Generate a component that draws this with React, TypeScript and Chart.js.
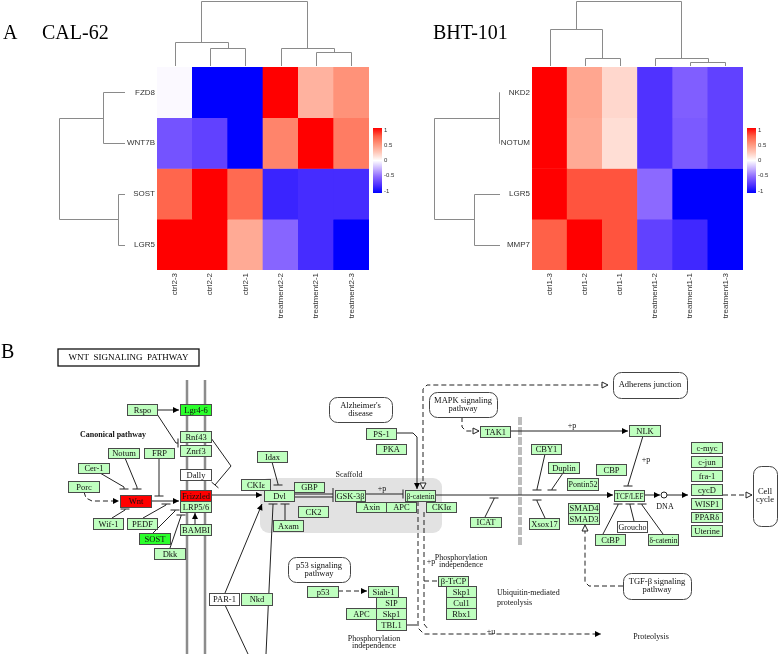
import React, { useEffect, useRef } from "react";
import { Chart, registerables } from "chart.js";
Chart.register(...registerables);

const SERIF = '"Liberation Serif", "Times New Roman", serif';
const SANS = '"Liberation Sans", Arial, sans-serif';

// ---------------- Panel A data ----------------
const CAL_SAMPLES = ["ctrl2-3", "ctrl2-2", "ctrl2-1", "treatment2-2", "treatment2-1", "treatment2-3"];
const CAL_GENES = ["FZD8", "WNT7B", "SOST", "LGR5"];
const CAL_FZD8 = [-0.02, -1, -1, 1, 0.36, 0.52];
const CAL_WNT7B = [-0.6, -0.68, -1, 0.58, 1, 0.62];
const CAL_SOST = [0.72, 1, 0.7, -0.82, -0.78, -0.78];
const CAL_LGR5 = [1, 1, 0.4, -0.52, -0.78, -1];
const CAL_COL_TREE = [[1, 2, 0.277], [0, 6, 0.369], [4, 5, 0.215], [3, 8, 0.277], [7, 9, 1]];
const CAL_ROW_TREE = [[0, 1, 0.333], [2, 3, 0.106], [4, 5, 1]];

const BHT_SAMPLES = ["ctrl1-3", "ctrl1-2", "ctrl1-1", "treatment1-2", "treatment1-1", "treatment1-3"];
const BHT_GENES = ["NKD2", "NOTUM", "LGR5", "MMP7"];
const BHT_NKD2 = [1, 0.42, 0.18, -0.75, -0.55, -0.68];
const BHT_NOTUM = [1, 0.4, 0.15, -0.75, -0.57, -0.68];
const BHT_LGR5 = [1, 0.78, 0.78, -0.5, -1, -1];
const BHT_MMP7 = [0.74, 1, 0.78, -0.68, -0.8, -1];
const BHT_COL_TREE = [[1, 2, 0.123], [0, 6, 0.569], [4, 5, 0.062], [3, 8, 0.123], [7, 9, 1]];
const BHT_ROW_TREE = [[0, 1, 0.01], [2, 3, 0.39], [4, 5, 1]];

const LEGEND_TICKS = [1, 0.5, 0, -0.5, -1];

// colour ramp (style)
const STOPS: [number, number[]][] = [
  [-1, [0, 0, 255]], [-0.75, [80, 50, 255]], [-0.5, [140, 105, 255]], [-0.25, [200, 180, 255]],
  [0, [255, 255, 255]], [0.25, [255, 200, 185]], [0.5, [255, 150, 125]], [0.75, [255, 95, 70]], [1, [255, 0, 0]],
];
function heatColor(v: number) {
  const x = Math.max(-1, Math.min(1, v));
  for (let i = 0; i < STOPS.length - 1; i++) {
    const [a, ca] = STOPS[i];
    const [b, cb] = STOPS[i + 1];
    if (x >= a && x <= b) {
      const t = (x - a) / (b - a);
      const c = ca.map((q, k) => Math.round(q + (cb[k] - q) * t));
      return `rgb(${c[0]},${c[1]},${c[2]})`;
    }
  }
  return "rgb(255,255,255)";
}

// ---------------- Panel B layout ----------------
const PATHWAY_NODES: [string, number, number, number, number, string][] = [
  ["Rspo", 127, 404, 30, 11, "g"], ["Lgr4-6", 180, 404, 31, 11, "G"], ["Rnf43", 180, 431, 31, 11, "g"],
  ["Znrf3", 180, 445, 31, 11, "g"], ["Dally", 180, 469, 31, 11, "w"], ["Frizzled", 180, 490, 31, 11, "r"],
  ["LRP5/6", 180, 501, 31, 11, "g"], ["BAMBI", 180, 524, 31, 11, "g"], ["Notum", 108, 448, 31, 10, "g"],
  ["FRP", 144, 448, 30, 10, "g"], ["Cer-1", 78, 463, 31, 10, "g"], ["Porc", 68, 481, 31, 11, "g"],
  ["Wnt", 120, 495, 31, 12, "r"], ["Wif-1", 93, 518, 30, 11, "g"], ["PEDF", 127, 518, 30, 11, "g"],
  ["SOST", 139, 533, 31, 11, "G"], ["Dkk", 154, 548, 31, 11, "g"], ["PAR-1", 209, 593, 30, 12, "w"],
  ["Nkd", 241, 593, 31, 12, "g"], ["CKIε", 241, 479, 29, 11, "g"], ["Idax", 257, 451, 30, 11, "g"],
  ["GBP", 294, 482, 30, 10, "g"], ["Dvl", 264, 490, 30, 11, "g"], ["GSK-3β", 335, 490, 30, 11, "g"],
  ["β-catenin", 405, 490, 30, 11, "g"], ["Axin", 356, 502, 30, 10, "g"], ["APC", 386, 502, 30, 10, "g"],
  ["CKIα", 426, 502, 30, 10, "g"], ["CK2", 298, 506, 30, 11, "g"], ["Axam", 273, 520, 30, 11, "g"],
  ["ICAT", 470, 517, 31, 10, "g"], ["PS-1", 366, 428, 30, 11, "g"], ["PKA", 376, 444, 30, 10, "g"],
  ["TAK1", 480, 426, 30, 11, "g"], ["NLK", 629, 425, 31, 11, "g"], ["CBY1", 531, 444, 30, 10, "g"],
  ["Duplin", 548, 462, 31, 11, "g"], ["CBP", 596, 464, 30, 11, "g"], ["Pontin52", 567, 478, 31, 12, "g"],
  ["TCF/LEF", 614, 490, 30, 11, "g"], ["SMAD4", 568, 503, 31, 10, "g"], ["SMAD3", 568, 513, 31, 11, "g"],
  ["Xsox17", 529, 518, 30, 11, "g"], ["Groucho", 617, 521, 30, 11, "w"], ["CtBP", 595, 534, 30, 11, "g"],
  ["δ-catenin", 648, 534, 30, 11, "g"], ["c-myc", 691, 442, 31, 11, "g"], ["c-jun", 691, 456, 31, 11, "g"],
  ["fra-1", 691, 470, 31, 11, "g"], ["cycD", 691, 484, 31, 11, "g"], ["WISP1", 691, 498, 31, 11, "g"],
  ["PPARδ", 691, 512, 31, 10, "g"], ["Uterine", 691, 525, 31, 11, "g"], ["p53", 307, 586, 31, 11, "g"],
  ["Siah-1", 368, 586, 30, 11, "g"], ["SIP", 376, 597, 30, 11, "g"], ["Skp1", 376, 608, 30, 11, "g"],
  ["APC", 346, 608, 30, 11, "g"], ["TBL1", 376, 619, 30, 11, "g"], ["β-TrCP", 438, 576, 30, 10, "g"],
  ["Skp1", 446, 586, 30, 11, "g"], ["Cul1", 446, 597, 30, 11, "g"], ["Rbx1", 446, 608, 30, 11, "g"],
];

const PATHWAY_LINKS: [string[], number, number, number, number][] = [
  [["Alzheimer's", "disease"], 329, 397, 63, 25],
  [["MAPK signaling", "pathway"], 429, 392, 68, 25],
  [["Adherens junction"], 613, 372, 74, 26],
  [["p53 signaling", "pathway"], 288, 557, 62, 25],
  [["TGF-β signaling", "pathway"], 623, 573, 68, 26],
  [["Cell", "cycle"], 753, 466, 24, 60],
];

const PATHWAY_TEXTS: [string, number, number, string, boolean][] = [
  ["Canonical pathway", 113, 435, "center", true], ["Scaffold", 349, 475, "center", false],
  ["+p", 382, 489, "center", false], ["+p", 572, 426, "center", false], ["+p", 646, 460, "center", false],
  ["+p", 431, 562, "center", false],
  ["Phosphorylation", 461, 558, "center", false], ["independence", 461, 565, "center", false],
  ["Phosphorylation", 374, 639, "center", false], ["independence", 374, 646, "center", false],
  ["Ubiquitin-mediated", 497, 593, "left", false], ["proteolysis", 497, 603, "left", false],
  ["+u", 491, 632, "center", false], ["Proteolysis", 651, 637, "center", false], ["DNA", 665, 507, "center", false],
];

type Edge = { p: number[][]; e: string; d?: boolean; s?: string };
const PATHWAY_EDGES: Edge[] = [
  { p: [[157, 410], [179, 410]], e: "arrow" },
  { p: [[157, 414], [176, 443], [178, 443]], e: "bar" },
  { p: [[211, 438], [231, 466], [215, 485]], e: "bar" },
  { p: [[211, 495], [262, 495]], e: "arrow" },
  { p: [[84, 492], [86, 498], [92, 501], [119, 501]], e: "arrow", d: true },
  { p: [[151, 501], [179, 501]], e: "arrow" },
  { p: [[100, 473], [124, 487], [124, 489]], e: "bar" },
  { p: [[125, 458], [137, 487], [137, 489]], e: "bar" },
  { p: [[159, 458], [159, 496]], e: "bar" },
  { p: [[112, 518], [125, 510], [125, 509]], e: "bar" },
  { p: [[143, 518], [166, 505], [166, 504]], e: "bar" },
  { p: [[153, 533], [175, 511], [175, 510]], e: "bar" },
  { p: [[170, 548], [181, 516], [181, 515]], e: "bar" },
  { p: [[195, 524], [195, 513]], e: "arrow" },
  { p: [[225, 593], [262, 504]], e: "arrow" },
  { p: [[225, 605], [248, 654]], e: "none" },
  { p: [[266, 654], [273, 505], [273, 504]], e: "bar" },
  { p: [[272, 462], [278, 484], [278, 485]], e: "bar" },
  { p: [[285, 520], [285, 504]], e: "bar" },
  { p: [[294, 494], [333, 494]], e: "none" },
  { p: [[294, 497], [333, 497]], e: "none" },
  { p: [[333, 488], [333, 502]], e: "none" },
  { p: [[365, 494], [403, 494]], e: "bar" },
  { p: [[396, 433], [413, 433], [417, 437], [417, 489]], e: "arrow" },
  { p: [[423, 489], [423, 389], [427, 385], [608, 385]], e: "open", s: "open", d: true },
  { p: [[462, 417], [462, 427], [466, 431], [479, 431]], e: "open", d: true },
  { p: [[510, 431], [628, 431]], e: "arrow" },
  { p: [[435, 495], [613, 495]], e: "arrow" },
  { p: [[643, 436], [628, 485], [628, 486]], e: "bar" },
  { p: [[545, 454], [537, 489], [537, 490]], e: "bar" },
  { p: [[563, 473], [552, 489], [552, 490]], e: "bar" },
  { p: [[545, 518], [537, 501], [537, 500]], e: "bar" },
  { p: [[644, 495], [660, 495]], e: "arrow" },
  { p: [[667, 495], [688, 495]], e: "arrow" },
  { p: [[723, 495], [752, 495]], e: "open", d: true },
  { p: [[603, 534], [618, 505], [618, 504]], e: "bar" },
  { p: [[634, 521], [630, 505], [630, 504]], e: "bar" },
  { p: [[663, 534], [642, 505], [642, 504]], e: "bar" },
  { p: [[623, 586], [589, 586], [585, 582], [585, 525]], e: "open", d: true },
  { p: [[485, 517], [494, 499], [494, 498]], e: "bar" },
  { p: [[338, 591], [367, 591]], e: "arrow", d: true },
  { p: [[406, 625], [417, 625]], e: "none" },
  { p: [[418, 501], [418, 628], [424, 634], [601, 634]], e: "arrow", d: true },
  { p: [[424, 512], [424, 624], [428, 629]], e: "none", d: true },
  { p: [[424, 581], [438, 581]], e: "none", d: true },
];

// ---------------- Heatmap ----------------
const heatPlugin = {
  id: "heatDeco",
  afterDraw(chart: any, _a: any, o: any) {
    const ctx = chart.ctx;
    const ca = chart.chartArea;
    const xs = chart.scales.x;
    const ys = chart.scales.y;
    ctx.save();
    ctx.strokeStyle = "#8a8a8a";
    ctx.lineWidth = 1;
    // column dendrogram
    const leafY = ca.top - 1, topY = 1;
    const cx: number[] = o.samples.map((_: any, i: number) => xs.getPixelForValue(i));
    const ch: number[] = o.samples.map(() => 0);
    const yOf = (h: number) => leafY - h * (leafY - topY);
    o.colTree.forEach(([a, b, h]: number[]) => {
      const y = Math.round(yOf(h)) + 0.5;
      ctx.beginPath();
      ctx.moveTo(Math.round(cx[a]) + 0.5, yOf(ch[a]));
      ctx.lineTo(Math.round(cx[a]) + 0.5, y);
      ctx.lineTo(Math.round(cx[b]) + 0.5, y);
      ctx.lineTo(Math.round(cx[b]) + 0.5, yOf(ch[b]));
      ctx.stroke();
      cx.push((cx[a] + cx[b]) / 2);
      ch.push(h);
    });
    // row dendrogram
    const leafX = ca.left - 32, rootX = leafX - 66;
    const ry: number[] = o.genes.map((_: any, i: number) => ys.getPixelForValue(i));
    const rh: number[] = o.genes.map(() => 0);
    const xOf = (h: number) => leafX - h * (leafX - rootX);
    o.rowTree.forEach(([a, b, h]: number[]) => {
      const x = Math.round(xOf(h)) + 0.5;
      ctx.beginPath();
      ctx.moveTo(xOf(rh[a]), Math.round(ry[a]) + 0.5);
      ctx.lineTo(x, Math.round(ry[a]) + 0.5);
      ctx.lineTo(x, Math.round(ry[b]) + 0.5);
      ctx.lineTo(xOf(rh[b]), Math.round(ry[b]) + 0.5);
      ctx.stroke();
      ry.push((ry[a] + ry[b]) / 2);
      rh.push(h);
    });
    // colour key
    const bx = ca.right + 4, bt = 128, bb = 193, bw = 9;
    const g = ctx.createLinearGradient(0, bt, 0, bb);
    STOPS.forEach(([v, c]) => g.addColorStop((1 - v) / 2, `rgb(${c[0]},${c[1]},${c[2]})`));
    ctx.fillStyle = g;
    ctx.fillRect(bx, bt, bw, bb - bt);
    ctx.fillStyle = "#333";
    ctx.font = `6px ${SANS}`;
    ctx.textAlign = "left";
    ctx.textBaseline = "middle";
    LEGEND_TICKS.forEach((v) => {
      const y = bt + 2 + ((1 - v) / 2) * (bb - bt - 4);
      ctx.fillText(String(v), bx + bw + 2, y);
    });
    // titles
    ctx.fillStyle = "#000";
    ctx.font = `20px ${SERIF}`;
    ctx.textBaseline = "alphabetic";
    if (o.letter) ctx.fillText(o.letter, 3, 38.5);
    ctx.fillText(o.title, o.titleX, 38.5);
    ctx.restore();
  },
};

function Heatmap(props: any) {
  const ref = useRef<HTMLCanvasElement>(null);
  useEffect(() => {
    const { samples, genes, rows, axisWidth, padRight } = props;
    const datasets = genes.map((g: string, i: number) => ({
      label: g,
      data: samples.map(() => [i - 0.5, i + 0.5]),
      backgroundColor: rows[i].map(heatColor),
      borderWidth: 0,
      barPercentage: 1,
      categoryPercentage: 1,
      grouped: false,
    }));
    const chart = new Chart(ref.current as HTMLCanvasElement, {
      type: "bar",
      data: { labels: samples, datasets },
      options: {
        responsive: false,
        animation: false,
        devicePixelRatio: 1,
        events: [],
        layout: { padding: { top: 67, right: padRight, bottom: 0, left: 0 } },
        plugins: {
          legend: { display: false },
          tooltip: { enabled: false },
          heatDeco: {
            samples, genes, colTree: props.colTree, rowTree: props.rowTree,
            title: props.title, titleX: props.titleX, letter: props.letter,
          },
        } as any,
        scales: {
          x: {
            type: "category",
            offset: true,
            grid: { display: false, drawTicks: false },
            border: { display: false },
            ticks: {
              minRotation: 90, maxRotation: 90, autoSkip: false, padding: 3,
              font: { family: SANS, size: 8 }, color: "#333",
            },
            afterFit: (s: any) => { s.height = 70; },
          },
          y: {
            type: "linear",
            min: -0.5,
            max: 3.5,
            reverse: true,
            grid: { display: false, drawTicks: false },
            border: { display: false },
            afterBuildTicks: (s: any) => { s.ticks = genes.map((_: any, i: number) => ({ value: i })); },
            ticks: {
              callback: (v: any) => genes[Math.round(Number(v))],
              padding: 2,
              font: { family: SANS, size: 8 },
              color: "#333",
            },
            afterFit: (s: any) => { s.width = axisWidth; },
          },
        } as any,
      },
      plugins: [heatPlugin],
    } as any);
    return () => chart.destroy();
  }, []);
  return (
    <canvas ref={ref} width={props.width} height={340}
      style={{ position: "absolute", left: props.left, top: 0, width: props.width, height: 340 }} />
  );
}

// ---------------- Pathway ----------------
function drawHead(ctx: any, p0: number[], p1: number[], kind: string) {
  const dx = p1[0] - p0[0], dy = p1[1] - p0[1];
  const L = Math.hypot(dx, dy) || 1;
  const ux = dx / L, uy = dy / L, nx = -uy, ny = ux;
  ctx.setLineDash([]);
  if (kind === "arrow" || kind === "open") {
    const len = 6, hw = 3;
    ctx.beginPath();
    ctx.moveTo(p1[0], p1[1]);
    ctx.lineTo(p1[0] - ux * len + nx * hw, p1[1] - uy * len + ny * hw);
    ctx.lineTo(p1[0] - ux * len - nx * hw, p1[1] - uy * len - ny * hw);
    ctx.closePath();
    if (kind === "arrow") { ctx.fillStyle = "#000"; ctx.fill(); }
    else { ctx.fillStyle = "#fff"; ctx.fill(); ctx.stroke(); }
  } else if (kind === "bar") {
    const hw = 4.5;
    ctx.beginPath();
    ctx.moveTo(p1[0] + nx * hw, p1[1] + ny * hw);
    ctx.lineTo(p1[0] - nx * hw, p1[1] - ny * hw);
    ctx.stroke();
  }
}

function roundRect(ctx: any, x: number, y: number, w: number, h: number, r: number) {
  ctx.beginPath();
  ctx.moveTo(x + r, y);
  ctx.lineTo(x + w - r, y);
  ctx.arcTo(x + w, y, x + w, y + r, r);
  ctx.lineTo(x + w, y + h - r);
  ctx.arcTo(x + w, y + h, x + w - r, y + h, r);
  ctx.lineTo(x + r, y + h);
  ctx.arcTo(x, y + h, x, y + h - r, r);
  ctx.lineTo(x, y + r);
  ctx.arcTo(x, y, x + r, y, r);
  ctx.closePath();
}

const FILLS: Record<string, string> = { g: "#bfffbf", G: "#2bff2b", r: "#ff0000", w: "#ffffff" };

const pathwayPlugin = {
  id: "pathway",
  afterDraw(chart: any) {
    const ctx = chart.ctx;
    const xs = chart.scales.x, ys = chart.scales.y;
    const X = (v: number) => xs.getPixelForValue(v);
    const Y = (v: number) => ys.getPixelForValue(v);
    ctx.save();
    // panel letter
    ctx.fillStyle = "#000";
    ctx.font = `20px ${SERIF}`;
    ctx.fillText("B", X(1), Y(358));
    // title frame
    ctx.strokeStyle = "#111";
    ctx.lineWidth = 1.3;
    ctx.fillStyle = "#fff";
    ctx.fillRect(X(58), Y(349), X(199) - X(58), Y(366) - Y(349));
    ctx.strokeRect(X(58), Y(349), X(199) - X(58), Y(366) - Y(349));
    ctx.fillStyle = "#000";
    ctx.font = `9px ${SERIF}`;
    ctx.textAlign = "center";
    ctx.textBaseline = "middle";
    ctx.fillText("WNT  SIGNALING  PATHWAY", X(128.5), Y(358));
    // scaffold
    ctx.fillStyle = "#e2e2e2";
    roundRect(ctx, X(260), Y(478), X(442) - X(260), Y(533) - Y(478), 9);
    ctx.fill();
    // membrane
    ctx.strokeStyle = "#8c8c8c";
    ctx.lineWidth = 2.5;
    [187, 205].forEach((x) => {
      ctx.beginPath();
      ctx.moveTo(X(x), Y(380));
      ctx.lineTo(X(x), Y(654));
      ctx.stroke();
    });
    // nuclear membrane dashes
    ctx.strokeStyle = "#bdbdbd";
    ctx.lineWidth = 4;
    ctx.setLineDash([8, 2]);
    ctx.beginPath();
    ctx.moveTo(X(520), Y(417));
    ctx.lineTo(X(520), Y(545));
    ctx.stroke();
    ctx.setLineDash([]);
    // edges
    ctx.strokeStyle = "#222";
    ctx.lineWidth = 1;
    PATHWAY_EDGES.forEach((ed) => {
      const pts = ed.p.map(([x, y]) => [X(x), Y(y)]);
      ctx.setLineDash(ed.d ? [5, 3] : []);
      ctx.beginPath();
      pts.forEach((p, i) => (i ? ctx.lineTo(p[0], p[1]) : ctx.moveTo(p[0], p[1])));
      ctx.stroke();
      const n = pts.length;
      drawHead(ctx, pts[n - 2], pts[n - 1], ed.e);
      if (ed.s) drawHead(ctx, pts[1], pts[0], ed.s);
    });
    ctx.setLineDash([]);
    // DNA circle
    ctx.fillStyle = "#fff";
    ctx.beginPath();
    ctx.arc(X(664), Y(495), 3, 0, Math.PI * 2);
    ctx.fill();
    ctx.stroke();
    // nodes
    ctx.font = `8.5px ${SERIF}`;
    ctx.textAlign = "center";
    ctx.textBaseline = "middle";
    PATHWAY_NODES.forEach(([label, x, y, w, h, k]) => {
      const px = Math.round(X(x)) + 0.5, py = Math.round(Y(y)) + 0.5;
      const pw = Math.round(X(x + w) - X(x)), ph = Math.round(Y(y + h) - Y(y));
      ctx.fillStyle = FILLS[k];
      ctx.fillRect(px, py, pw, ph);
      ctx.strokeStyle = "#4a4a4a";
      ctx.lineWidth = 1;
      ctx.strokeRect(px, py, pw, ph);
      ctx.fillStyle = "#111";
      ctx.fillText(label, px + pw / 2, py + ph / 2 + 0.5, pw - 2);
    });
    // map links
    PATHWAY_LINKS.forEach(([lines, x, y, w, h]) => {
      ctx.fillStyle = "#fff";
      ctx.strokeStyle = "#444";
      roundRect(ctx, X(x) + 0.5, Y(y) + 0.5, X(x + w) - X(x), Y(y + h) - Y(y), 8);
      ctx.fill();
      ctx.stroke();
      ctx.fillStyle = "#111";
      const cy = Y(y + h / 2);
      lines.forEach((t, i) => {
        ctx.fillText(t, X(x + w / 2), cy + (i - (lines.length - 1) / 2) * 8);
      });
    });
    // free text
    PATHWAY_TEXTS.forEach(([t, x, y, al, bold]) => {
      ctx.font = `${bold ? "bold " : ""}8px ${SERIF}`;
      ctx.textAlign = al;
      ctx.fillStyle = "#111";
      ctx.fillText(t, X(x), Y(y));
    });
    ctx.restore();
  },
};

function Pathway() {
  const ref = useRef<HTMLCanvasElement>(null);
  useEffect(() => {
    const chart = new Chart(ref.current as HTMLCanvasElement, {
      type: "scatter",
      data: { datasets: [] },
      options: {
        responsive: false,
        animation: false,
        devicePixelRatio: 1,
        events: [],
        layout: { padding: 0 },
        plugins: { legend: { display: false }, tooltip: { enabled: false } },
        scales: {
          x: { type: "linear", min: 0, max: 778, display: false },
          y: { type: "linear", min: 340, max: 654, reverse: true, display: false },
        },
      },
      plugins: [pathwayPlugin],
    } as any);
    return () => chart.destroy();
  }, []);
  return (
    <canvas ref={ref} width={778} height={314}
      style={{ position: "absolute", left: 0, top: 340, width: 778, height: 314 }} />
  );
}

export default function App() {
  useEffect(() => {
    document.body.style.margin = "0";
  }, []);
  return (
    <div style={{ position: "absolute", left: 0, top: 0, width: 778, height: 654, background: "#fff", overflow: "hidden" }}>
      <Heatmap left={0} width={402} axisWidth={157} padRight={33}
        samples={CAL_SAMPLES} genes={CAL_GENES}
        rows={[CAL_FZD8, CAL_WNT7B, CAL_SOST, CAL_LGR5]}
        colTree={CAL_COL_TREE} rowTree={CAL_ROW_TREE}
        title="CAL-62" titleX={42} letter="A" />
      <Heatmap left={390} width={388} axisWidth={142} padRight={35}
        samples={BHT_SAMPLES} genes={BHT_GENES}
        rows={[BHT_NKD2, BHT_NOTUM, BHT_LGR5, BHT_MMP7]}
        colTree={BHT_COL_TREE} rowTree={BHT_ROW_TREE}
        title="BHT-101" titleX={43} letter="" />
      <Pathway />
    </div>
  );
}
